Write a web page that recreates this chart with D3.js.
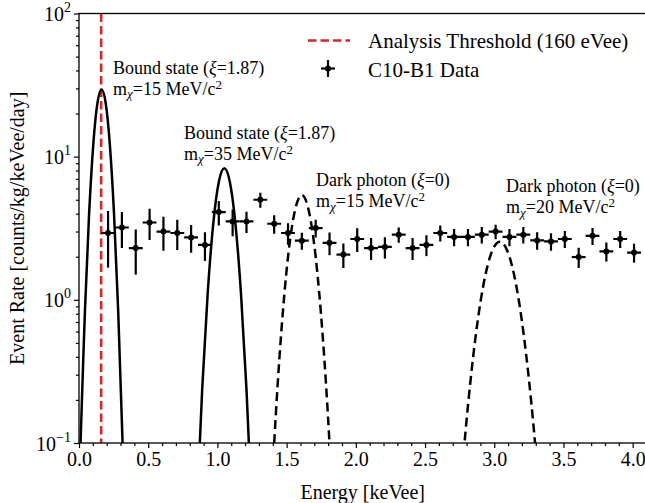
<!DOCTYPE html>
<html>
<head>
<meta charset="utf-8">
<script src="https://cdn.jsdelivr.net/npm/d3@7"></script>
<style>
  body { margin: 0; background: #fff; }
  text { font-family: "Liberation Serif", "Times New Roman", serif; fill: #000; }
</style>
</head>
<body>
<svg id="chart" width="645" height="503"></svg>
<script>
// ---- measured event rate (bin centres, keVee) ----
const binEnergy = [0.21, 0.31, 0.41, 0.51, 0.61, 0.71, 0.81, 0.91, 1.01, 1.11,
                   1.21, 1.31, 1.41, 1.51, 1.61, 1.71, 1.81, 1.91, 2.01, 2.11,
                   2.21, 2.31, 2.41, 2.51, 2.61, 2.71, 2.81, 2.91, 3.01, 3.11,
                   3.21, 3.31, 3.41, 3.51, 3.61, 3.71, 3.81, 3.91, 4.01];
const binRate   = [2.93, 3.20, 2.30, 3.47, 3.00, 2.93, 2.73, 2.42, 4.10, 3.53,
                   3.53, 5.00, 3.40, 2.93, 2.59, 3.17, 2.50, 2.07, 2.66, 2.30,
                   2.34, 2.85, 2.30, 2.42, 2.93, 2.75, 2.75, 2.85, 3.00, 2.75,
                   2.85, 2.60, 2.56, 2.66, 1.99, 2.80, 2.18, 2.66, 2.14];
const binError  = [1.25, 0.90, 0.80, 0.85, 0.80, 0.70, 0.60, 0.55, 0.80, 0.75,
                   0.60, 0.60, 0.50, 0.50, 0.35, 0.45, 0.45, 0.40, 0.50, 0.40,
                   0.40, 0.35, 0.40, 0.40, 0.37, 0.38, 0.38, 0.38, 0.35, 0.38,
                   0.38, 0.36, 0.36, 0.36, 0.32, 0.38, 0.33, 0.36, 0.32];
const binHalfWidth = 0.05;
const thresholdEnergy = 0.16;

// ---- expected signal spectra ----
const bound15Energy = [0.000, 0.013, 0.043, 0.073, 0.103, 0.133, 0.163, 0.193, 0.223, 0.253, 0.283, 0.313, 0.343];
const bound15Rate   = [0.042, 0.114, 0.84, 4.0, 12.1, 23.6, 29.5, 23.6, 12.1, 4.0, 0.84, 0.114, 0.0099];
const bound35Energy = [0.81, 0.85, 0.89, 0.93, 0.97, 1.01, 1.05, 1.09, 1.13, 1.17, 1.21, 1.25, 1.29];
const bound35Rate   = [0.0028, 0.0321, 0.237, 1.12, 3.41, 6.65, 8.3, 6.65, 3.41, 1.12, 0.237, 0.0321, 0.0028];
const dark15Energy  = [1.36, 1.41, 1.46, 1.51, 1.56, 1.61, 1.66, 1.71, 1.76, 1.81, 1.86];
const dark15Rate    = [0.0105, 0.0991, 0.569, 1.99, 4.20, 5.4, 4.20, 1.99, 0.569, 0.0991, 0.0105];
const dark20Energy  = [2.69, 2.76, 2.83, 2.90, 2.97, 3.04, 3.11, 3.18, 3.25, 3.32, 3.39];
const dark20Rate    = [0.0056, 0.0507, 0.281, 0.958, 2.00, 2.55, 2.00, 0.958, 0.281, 0.0507, 0.0056];

// ---- axis ticks ----
const xMajorTicks = [0.0, 0.5, 1.0, 1.5, 2.0, 2.5, 3.0, 3.5, 4.0];
const xTickLabels = ["0.0", "0.5", "1.0", "1.5", "2.0", "2.5", "3.0", "3.5", "4.0"];
const yMajorTicks = [0.1, 1, 10, 100];
const yTickExponents = ["\u22121", "0", "1", "2"];

const svg = d3.select("#chart");
const pLeft = 79, pRight = 646.5, pTop = 13.5, pBottom = 443;

const x = d3.scaleLinear().domain([0, 4.1]).range([pLeft, pRight]);
const y = d3.scaleLog().domain([0.1, 100]).range([pBottom, pTop]);

svg.append("defs").append("clipPath").attr("id", "plotArea")
  .append("rect").attr("x", pLeft).attr("y", pTop)
  .attr("width", pRight - pLeft).attr("height", pBottom - pTop);

const plot = svg.append("g").attr("clip-path", "url(#plotArea)");

// threshold line
plot.append("line")
  .attr("x1", x(thresholdEnergy)).attr("x2", x(thresholdEnergy))
  .attr("y1", y(100)).attr("y2", y(0.1))
  .attr("stroke", "#d62728").attr("stroke-width", 2.6)
  .attr("stroke-dasharray", "8.5,4");

// signal curves
const curveLine = d3.line()
  .x(d => x(d[0])).y(d => y(d[1]))
  .curve(d3.curveNatural);

const spectra = [
  { e: bound15Energy, r: bound15Rate, dash: null },
  { e: bound35Energy, r: bound35Rate, dash: null },
  { e: dark15Energy,  r: dark15Rate,  dash: "9,5" },
  { e: dark20Energy,  r: dark20Rate,  dash: "9,5" }
];
spectra.forEach(s => {
  plot.append("path")
    .datum(s.e.map((v, i) => [v, s.r[i]]))
    .attr("d", curveLine)
    .attr("fill", "none")
    .attr("stroke", "#000")
    .attr("stroke-width", 2.5)
    .attr("stroke-dasharray", s.dash);
});

// data points with error bars
const pts = binEnergy.map((e, i) => ({ e, r: binRate[i], err: binError[i] }));
const pg = plot.append("g").selectAll("g").data(pts).join("g");
pg.append("line")
  .attr("x1", d => x(d.e - binHalfWidth)).attr("x2", d => x(d.e + binHalfWidth))
  .attr("y1", d => y(d.r)).attr("y2", d => y(d.r))
  .attr("stroke", "#000").attr("stroke-width", 2.2);
pg.append("line")
  .attr("x1", d => x(d.e)).attr("x2", d => x(d.e))
  .attr("y1", d => y(d.r + d.err)).attr("y2", d => y(d.r - d.err))
  .attr("stroke", "#000").attr("stroke-width", 2.2);
pg.append("circle")
  .attr("cx", d => x(d.e)).attr("cy", d => y(d.r)).attr("r", 3)
  .attr("fill", "#000");

// axes
const xAxis = svg.append("g").attr("transform", `translate(0,${pBottom})`)
  .call(d3.axisBottom(x).tickValues(xMajorTicks).tickSize(5)
    .tickFormat((d, i) => xTickLabels[i]));
svg.append("g").attr("transform", `translate(0,${pBottom})`)
  .call(d3.axisBottom(x).tickValues(d3.range(1, 41).map(k => k / 10)
      .filter(v => Math.abs(v * 2 - Math.round(v * 2)) > 1e-6))
    .tickSize(3).tickFormat(""))
  .call(g => g.select(".domain").remove());
xAxis.select(".domain").remove();
xAxis.selectAll(".tick text").attr("font-size", 20).attr("dy", null).attr("y", 23)
  .attr("font-family", "Liberation Serif");

const yMinor = [];
[0.1, 1, 10].forEach(b => { for (let k = 2; k <= 9; k++) yMinor.push(b * k); });
svg.append("g").attr("transform", `translate(${pLeft},0)`)
  .call(d3.axisLeft(y).tickValues(yMinor).tickSize(3).tickFormat(""))
  .call(g => g.select(".domain").remove());
const yAxis = svg.append("g").attr("transform", `translate(${pLeft},0)`)
  .call(d3.axisLeft(y).tickValues(yMajorTicks).tickSize(5).tickFormat(""));
yAxis.select(".domain").remove();
yAxis.selectAll(".tick").each(function(d, i) {
  const t = d3.select(this).append("text")
    .attr("x", -8).attr("y", 7).attr("text-anchor", "end")
    .attr("font-size", 20).attr("font-family", "Liberation Serif").attr("fill", "#000");
  t.append("tspan").text("10");
  t.append("tspan").attr("font-size", 14).attr("dy", -9).text(yTickExponents[i]);
});
svg.selectAll(".tick line").attr("stroke", "#000").attr("stroke-width", 1.2);

// frame
svg.append("rect").attr("x", pLeft).attr("y", pTop)
  .attr("width", pRight - pLeft).attr("height", pBottom - pTop)
  .attr("fill", "none").attr("stroke", "#000").attr("stroke-width", 1.3);

// axis titles
svg.append("text").attr("x", (pLeft + pRight) / 2).attr("y", 498.5)
  .attr("text-anchor", "middle").attr("font-size", 20).text("Energy [keVee]");
svg.append("text").attr("transform", `translate(24,${(pTop + pBottom) / 2}) rotate(-90)`)
  .attr("text-anchor", "middle").attr("font-size", 20)
  .text("Event Rate [counts/kg/keVee/day]");

// spectrum annotations
const notes = [
  { x: 113, y: 73.5, head: "Bound state (", xi: "1.87", mass: "15" },
  { x: 184, y: 138.5, head: "Bound state (", xi: "1.87", mass: "35" },
  { x: 316, y: 186, head: "Dark photon (", xi: "0", mass: "15" },
  { x: 506, y: 192, head: "Dark photon (", xi: "0", mass: "20" }
];
notes.forEach(n => {
  const l1 = svg.append("text").attr("x", n.x).attr("y", n.y).attr("font-size", 18);
  l1.append("tspan").text(n.head);
  l1.append("tspan").attr("font-style", "italic").text("\u03BE");
  l1.append("tspan").text("=" + n.xi + ")");
  const l2 = svg.append("text").attr("x", n.x).attr("y", n.y + 21).attr("font-size", 18);
  l2.append("tspan").text("m");
  l2.append("tspan").attr("font-style", "italic").attr("font-size", 13).attr("dy", 3.5).text("\u03C7");
  l2.append("tspan").attr("dy", -3.5).text("=" + n.mass + " MeV/c");
  l2.append("tspan").attr("font-size", 13).attr("dy", -6).text("2");
});

// legend
const lg = svg.append("g");
lg.append("line").attr("x1", 308).attr("x2", 350).attr("y1", 40.5).attr("y2", 40.5)
  .attr("stroke", "#d62728").attr("stroke-width", 2.6).attr("stroke-dasharray", "8.5,4");
lg.append("text").attr("x", 368).attr("y", 48).attr("font-size", 21)
  .text("Analysis Threshold (160 eVee)");
lg.append("line").attr("x1", 321).attr("x2", 335).attr("y1", 68.5).attr("y2", 68.5)
  .attr("stroke", "#000").attr("stroke-width", 2.2);
lg.append("line").attr("x1", 328).attr("x2", 328).attr("y1", 60).attr("y2", 77)
  .attr("stroke", "#000").attr("stroke-width", 2.2);
lg.append("circle").attr("cx", 328).attr("cy", 68.5).attr("r", 3).attr("fill", "#000");
lg.append("text").attr("x", 368).attr("y", 76.5).attr("font-size", 21).text("C10-B1 Data");
</script>
</body>
</html>
